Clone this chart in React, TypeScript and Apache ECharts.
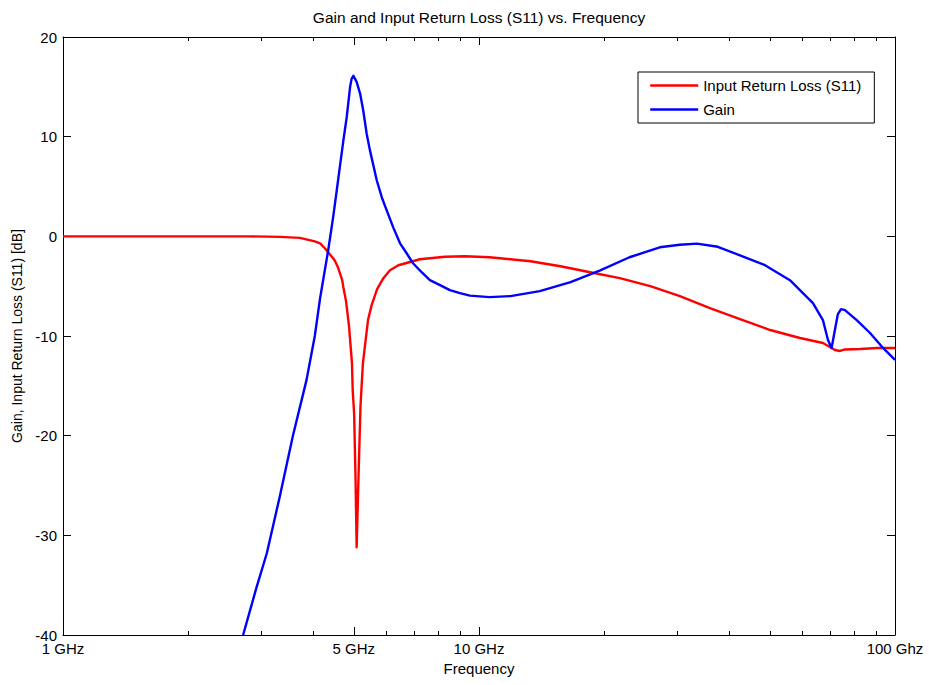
import React, { useEffect, useRef } from "react";
import * as echarts from "echarts";

// Frequency axis tick positions (GHz) and labels
const majorTickFreqs = [1, 5, 10, 100];
const majorTickLabels = ["1 GHz", "5 GHz", "10 GHz", "100 Ghz"];
const minorTickFreqs = [2, 3, 4, 6, 7, 8, 9, 20, 30, 40, 50, 60, 70, 80, 90];

// Input Return Loss (S11)
const s11Freq = [
  1, 1.62, 2.815, 3.32, 3.71, 4.03, 4.15, 4.26, 4.46, 4.51, 4.58, 4.69, 4.72, 4.79, 4.87, 4.95,
  4.97, 5.01, 5.05, 5.08, 5.13, 5.19, 5.26, 5.41, 5.52, 5.69, 5.89, 6.11, 6.4, 7.21, 8.28, 9.25,
  10.6, 13.3, 15.7, 18.5, 21.8, 25.8, 30.4, 35.9, 42.4, 50.1, 59.1, 67.1, 69.8, 71.7, 73.8, 75.8,
  82.4, 90.5, 100,
];
const s11Db = [
  0, 0, 0, -0.05, -0.15, -0.5, -0.7, -1.2, -2.2, -2.5, -3.1, -4.4, -5.1, -6.5, -9, -12.7,
  -15.4, -17.8, -24.5, -31.2, -24.5, -17, -12.7, -8.4, -6.9, -5.3, -4.2, -3.4, -2.9, -2.3, -2.05, -2.0,
  -2.1, -2.5, -3.0, -3.6, -4.2, -5.0, -6.0, -7.2, -8.3, -9.4, -10.2, -10.7, -11.1, -11.4, -11.5, -11.35,
  -11.3, -11.2, -11.2,
];

// Gain
const gainFreq = [
  2.71, 2.92, 3.09, 3.32, 3.57, 3.85, 4.03, 4.15, 4.34, 4.46, 4.55, 4.63, 4.72, 4.81, 4.9, 4.94,
  4.99, 5.08, 5.18, 5.27, 5.37, 5.47, 5.68, 5.84, 6.0, 6.22, 6.46, 6.7, 6.94, 7.28, 7.62, 8.06,
  8.51, 9.0, 9.51, 10.6, 11.9, 14.0, 16.6, 19.5, 23.0, 27.2, 30.4, 33.4, 37.5, 43.0, 48.7, 55.9,
  63.5, 67.1, 69.0, 70.4, 71.7, 72.9, 74.2, 75.8, 80.9, 87.1, 93.6, 100,
];
const gainDb = [
  -40, -35.2, -31.8, -26.1, -20, -14.4, -10, -6.2, -1.4, 1.9, 4.6, 7, 9.6, 12, 15, 15.8,
  16.1, 15.5, 14.3, 12.6, 10.3, 8.6, 5.6, 3.9, 2.6, 0.9, -0.7, -1.7, -2.7, -3.6, -4.4, -4.9,
  -5.4, -5.7, -5.95, -6.1, -6.0, -5.5, -4.6, -3.45, -2.1, -1.1, -0.85, -0.73, -1.05, -2.0, -2.9, -4.4,
  -6.7, -8.4, -10.4, -11.2, -9.4, -7.8, -7.3, -7.4, -8.4, -9.7, -11.2, -12.4,
];

const FONT = "Liberation Sans, Arial, Helvetica, sans-serif";

export default function App() {
  const ref = useRef<HTMLDivElement>(null);

  useEffect(() => {
    if (!ref.current) return;
    const chart = echarts.init(ref.current, null, { renderer: "svg" });

    const lg = (v: number) => Math.log10(v);
    const majorVals = majorTickFreqs.map(lg);
    const minorVals = minorTickFreqs.map(lg);
    const labelFor = (v: number) => {
      let best = 0;
      let bd = Infinity;
      majorVals.forEach((m, i) => {
        const d = Math.abs(m - v);
        if (d < bd) {
          bd = d;
          best = i;
        }
      });
      return majorTickLabels[best];
    };

    const black = "#000";
    const tickAxis = (
      position: "top" | "bottom",
      vals: number[],
      len: number,
      labels: boolean,
      line: boolean
    ) => ({
      type: "value",
      position,
      min: 0,
      max: 2,
      axisLine: { show: line, onZero: false, lineStyle: { color: black, width: 1 } },
      axisTick: {
        show: true,
        inside: true,
        length: len,
        customValues: vals,
        lineStyle: { color: black, width: 1 },
      },
      axisLabel: labels
        ? {
            show: true,
            customValues: vals,
            formatter: (v: number) => labelFor(v),
            color: black,
            fontSize: 15,
            fontFamily: FONT,
            margin: 6,
          }
        : { show: false },
      splitLine: { show: false },
    });

    const option: any = {
      animation: false,
      backgroundColor: "#fff",
      textStyle: { fontFamily: FONT },
      grid: { left: 63, right: 34, top: 37, bottom: 50, containLabel: false },
      graphic: [
        {
          type: "text",
          x: 479,
          y: 17,
          style: {
            text: "Gain and Input Return Loss (S11) vs. Frequency",
            textAlign: "center",
            textVerticalAlign: "middle",
            fontSize: 15.5,
            fontFamily: FONT,
            fill: black,
          },
        },
      ],
      legend: {
        orient: "vertical",
        left: 638,
        top: 72,
        padding: [6, 13, 6, 11],
        itemWidth: 48,
        itemHeight: 14,
        itemGap: 9,
        borderColor: black,
        borderWidth: 1,
        borderRadius: 0,
        backgroundColor: "#fff",
        itemStyle: { opacity: 0 },
        lineStyle: { width: 2.4 },
        textStyle: { fontSize: 15, color: black, fontFamily: FONT },
        data: ["Input Return Loss (S11)", "Gain"],
      },
      xAxis: [
        {
          type: "log",
          logBase: 10,
          min: 1,
          max: 100,
          position: "bottom",
          name: "Frequency",
          nameLocation: "middle",
          nameGap: 26,
          nameTextStyle: { fontSize: 15, color: black, fontFamily: FONT },
          axisLine: { show: true, onZero: false, lineStyle: { color: black, width: 1 } },
          axisTick: { show: false },
          axisLabel: { show: false },
          splitLine: { show: false },
        },
        tickAxis("bottom", majorVals, 8, true, false),
        tickAxis("bottom", minorVals, 4, false, false),
        tickAxis("top", majorVals, 8, false, true),
        tickAxis("top", minorVals, 4, false, false),
      ],
      yAxis: [
        {
          type: "value",
          position: "left",
          min: -40,
          max: 20,
          interval: 10,
          name: "Gain, Input Return Loss (S11) [dB]",
          nameLocation: "middle",
          nameGap: 37,
          nameTextStyle: { fontSize: 14, color: black, fontFamily: FONT },
          axisLine: { show: true, onZero: false, lineStyle: { color: black, width: 1 } },
          axisTick: { show: true, inside: true, length: 8, lineStyle: { color: black, width: 1 } },
          axisLabel: { color: black, fontSize: 15, fontFamily: FONT, margin: 6 },
          splitLine: { show: false },
        },
        {
          type: "value",
          position: "right",
          min: -40,
          max: 20,
          interval: 10,
          axisLine: { show: true, onZero: false, lineStyle: { color: black, width: 1 } },
          axisTick: { show: true, inside: true, length: 8, lineStyle: { color: black, width: 1 } },
          axisLabel: { show: false },
          splitLine: { show: false },
        },
      ],
      series: [
        {
          name: "Input Return Loss (S11)",
          type: "line",
          xAxisIndex: 0,
          yAxisIndex: 0,
          symbol: "none",
          smooth: false,
          lineStyle: { color: "#ff0000", width: 2.4, join: "round" },
          itemStyle: { color: "#ff0000" },
          data: s11Freq.map((f, i) => [f, s11Db[i]]),
        },
        {
          name: "Gain",
          type: "line",
          xAxisIndex: 0,
          yAxisIndex: 0,
          symbol: "none",
          smooth: false,
          lineStyle: { color: "#0000ff", width: 2.4, join: "round" },
          itemStyle: { color: "#0000ff" },
          data: gainFreq.map((f, i) => [f, gainDb[i]]),
        },
      ],
    };

    chart.setOption(option);
    return () => chart.dispose();
  }, []);

  return (
    <div
      ref={ref}
      style={{ position: "absolute", left: 0, top: 0, width: 929, height: 685 }}
    />
  );
}
